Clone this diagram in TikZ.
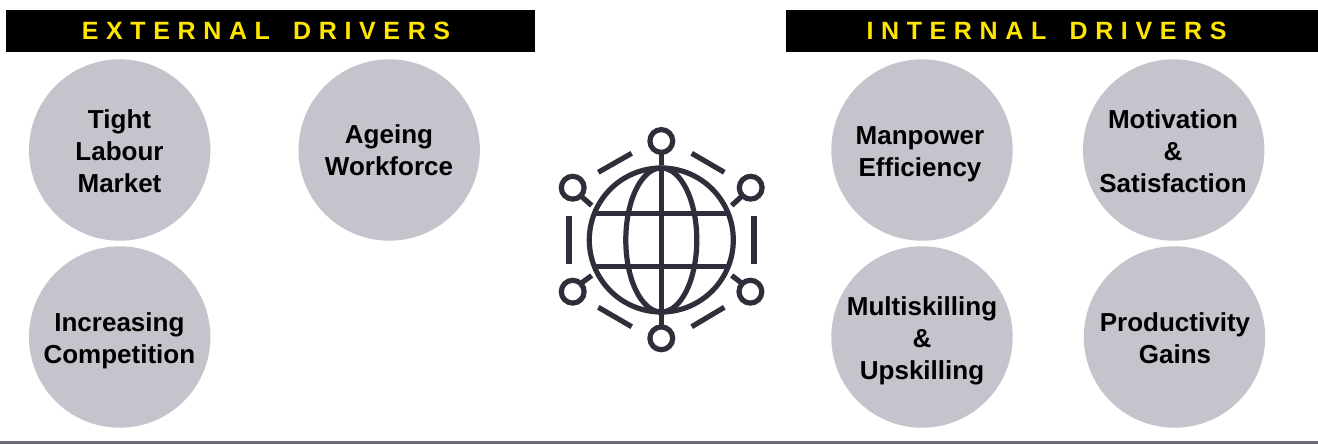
\documentclass[tikz,border=0pt]{standalone}
\usepackage{fontspec}
\setmainfont{Liberation Sans}
\newfontfamily\hdrfont[LetterSpace=30.5,WordSpace=1.6]{Liberation Sans}
\definecolor{discgrey}{HTML}{C3C4CC}
\definecolor{globeink}{HTML}{2E2F3A}
\definecolor{hdryellow}{HTML}{FFE600}
\definecolor{footgrey}{HTML}{6D6B75}
\newcommand{\fl}{\rule{0pt}{20pt}}
\tikzset{
  x=1pt,y=-1pt,
  disc/.style={circle,fill=discgrey,draw=none,minimum size=181.4pt,inner sep=0pt},
  lbl/.style={anchor=north,inner sep=0pt,align=center,
    font=\fontsize{26pt}{32pt}\selectfont\bfseries,text=black},
  hdr/.style={fill=black,draw=none,minimum width=#1,minimum height=42pt,inner sep=0pt,text=hdryellow,
    font=\hdrfont\fontsize{25pt}{30pt}\selectfont\bfseries},
  ink/.style={draw=globeink,line width=5.2pt},
  ring/.style={draw=globeink,line width=5.2pt,fill=none},
}
\begin{document}
\begin{tikzpicture}
\useasboundingbox (0,0) rectangle (1318,444);
\node[hdr=529pt] (ext) at (270.5,31) {EXTERNAL DRIVERS\hspace*{9pt}};
\node[hdr=532pt] (int) at (1052,31) {INTERNAL DRIVERS\hspace*{11pt}};
\node[disc] (tight) at (119.7,150) {};
\node[disc] (age) at (389.2,150) {};
\node[disc] (comp) at (119.7,337) {};
\node[disc] (man) at (922,150) {};
\node[disc] (mot) at (1173.7,150) {};
\node[disc] (multi) at (922,337) {};
\node[disc] (prod) at (1174.5,337) {};
\node[lbl] (tightt) at (119.5,107.8) {\fl Tight\\Labour\hspace*{8pt}\\Market};
\node[lbl] (aget) at (389,123) {\fl Ageing\\Workforce};
\node[lbl] (compt) at (119.4,311.4) {\fl Increasing\\Competition};
\node[lbl] (mant) at (920,124.5) {\fl Manpower\\Efficiency};
\node[lbl] (mott) at (1173,107.8) {\fl Motivation\\\&\\Satisfaction};
\node[lbl] (multit) at (922,295.5) {\fl Multiskilling\\\&\\Upskilling};
\node[lbl] (prodt) at (1175,311.2) {\fl Productivity\\Gains};
% globe
\draw[ink] (661.3,240) circle[radius=72];
\draw[ink] (661.3,240) ellipse[x radius=35.5,y radius=72];
\draw[ink] (661.3,168) -- (661.3,312);
\draw[ink] (595,213.3) -- (727,213.3);
\draw[ink] (595,266.7) -- (727,266.7);
% satellites
\draw[ring] (661.3,141) circle[radius=11.4];
\draw[ring] (661.3,338.3) circle[radius=11.4];
\draw[ring] (572.7,187.7) circle[radius=11.4];
\draw[ring] (750.7,187.7) circle[radius=11.4];
\draw[ring] (572.7,291.7) circle[radius=11.4];
\draw[ring] (750.4,291.7) circle[radius=11.4];
% stems
\draw[ink] (661.3,152) -- (661.3,165);
\draw[ink] (661.3,314) -- (661.3,327);
\draw[ink] (581.5,196.5) -- (591.7,205.5);
\draw[ink] (741.5,196.5) -- (731.7,205.5);
\draw[ink] (581.5,283) -- (591.7,275.5);
\draw[ink] (741.5,283) -- (731.7,275.5);
% arcs between satellites
\draw[ink] (598.3,172.3) -- (631.7,153.3);
\draw[ink] (691.7,153.3) -- (724.3,172.3);
\draw[ink] (569,216) -- (569,264);
\draw[ink] (754,216) -- (754,264);
\draw[ink] (598.3,307.3) -- (631.7,326.7);
\draw[ink] (691.7,326.7) -- (724.3,307.3);
% footer
\fill[footgrey] (0,440.5) rectangle (1318,444);
\end{tikzpicture}
\end{document}
